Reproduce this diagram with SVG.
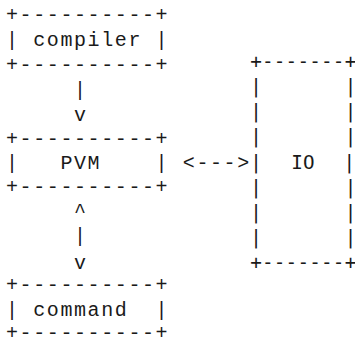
<svg xmlns="http://www.w3.org/2000/svg" width="355" height="344" viewBox="0 0 355 344">
<style>
  .l { font-family: "Liberation Mono", "Courier New", monospace; font-size: 20px; letter-spacing: 1.6px; fill: #1a1a1a; white-space: pre; }
  .r { font-family: "DejaVu Sans Mono", monospace; font-size: 19.3px; letter-spacing: 0.2px; fill: #1a1a1a; white-space: pre; }
</style>
<rect width="355" height="344" fill="#fff"/>
<g id="compiler">
  <text class="l" x="6" y="20.5">+----------+</text>
  <text class="l" x="6" y="46">| compiler |</text>
  <text class="l" x="6" y="70.5">+----------+</text>
</g>
<g id="pvm">
  <text class="l" x="6" y="144.5">+----------+</text>
  <text class="l" x="6" y="169">|   PVM    |</text>
  <text class="l" x="6" y="193">+----------+</text>
</g>
<g id="command">
  <text class="l" x="6" y="290.5">+----------+</text>
  <text class="l" x="6" y="315.5">| command  |</text>
  <text class="l" x="6" y="339">+----------+</text>
</g>
<g id="io">
  <text class="r" x="250.2" y="67.7">+-------+</text>
  <text class="r" x="250.2" y="92.9">|       |</text>
  <text class="r" x="250.2" y="118.1">|       |</text>
  <text class="r" x="250.2" y="143.3">|       |</text>
  <text class="r" x="250.2" y="168.5">|</text>
  <text class="r" x="303" y="168.5" text-anchor="middle">IO</text>
  <text class="r" x="343.6" y="168.5">|</text>
  <text class="r" x="250.2" y="193.7">|       |</text>
  <text class="r" x="250.2" y="218.9">|       |</text>
  <text class="r" x="250.2" y="244.1">|       |</text>
  <text class="r" x="250.2" y="269.3">+-------+</text>
</g>
<g id="connectors">
  <text class="l" x="6" y="95.5">     |</text>
  <text class="l" x="6" y="121">     v</text>
  <text class="l" x="6" y="217">     ^</text>
  <text class="l" x="6" y="242">     |</text>
  <text class="l" x="6" y="268.5">     v</text>
  <text class="l" x="182.8" y="169">&lt;---&gt;</text>
</g>
</svg>
